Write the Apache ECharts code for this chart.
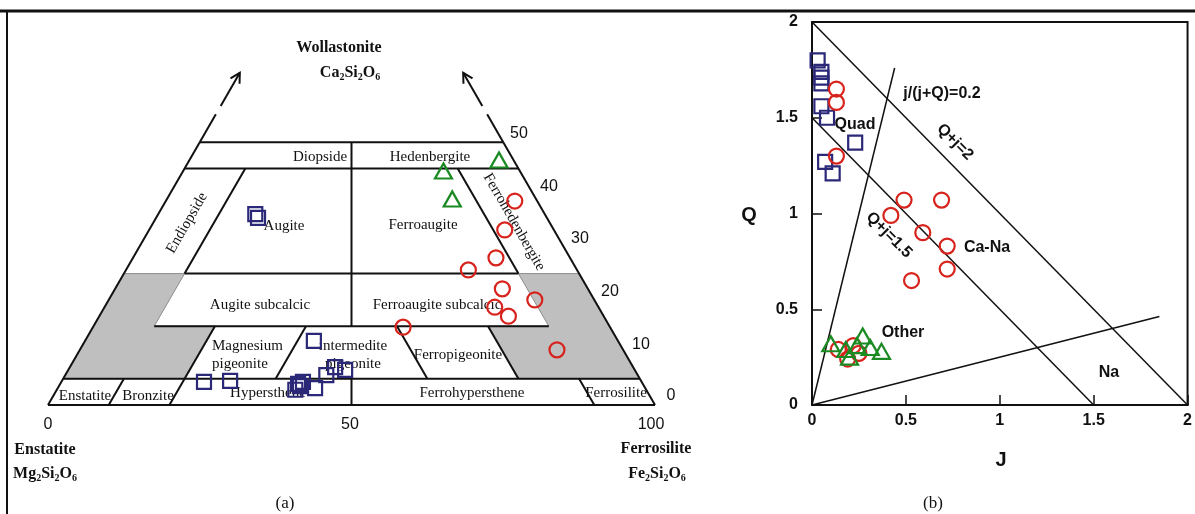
<!DOCTYPE html>
<html>
<head>
<meta charset="utf-8">
<script src="https://cdn.jsdelivr.net/npm/echarts@6/dist/echarts.min.js"></script>
<style>
html, body { margin: 0; background: #fff; }
#chart { width: 1195px; height: 514px; }
</style>
</head>
<body>
<div id="chart"></div>
<script>
// (a) pyroxene quadrilateral, compositions (mol% Wo, Fs; En = 100 - Wo - Fs)
const squareWo = [36.3, 35.6, 4.4, 4.6, 12.2, 2.9, 3.6, 4.4, 4.0, 3.2, 5.7, 7.2, 6.7]
const squareFs = [16.0, 16.8, 23.5, 27.7, 37.7, 39.3, 39.7, 39.8, 39.2, 42.4, 43.0, 43.7, 45.6]
const circleWo = [38.8, 33.3, 28.0, 25.7, 22.1, 20.0, 18.6, 16.9, 14.8, 10.5]
const circleFs = [57.5, 58.6, 59.8, 56.4, 63.8, 70.2, 64.3, 67.4, 51.1, 78.6]
const triangleWo = [46.6, 44.5, 39.2]
const triangleFs = [51.0, 42.9, 47.0]

// (b) Q-J diagram
const squareJ = [0.03, 0.05, 0.05, 0.05, 0.05, 0.08, 0.23, 0.07, 0.11]
const squareQ = [1.80, 1.74, 1.71, 1.68, 1.56, 1.50, 1.37, 1.27, 1.21]
const circleJ = [0.13, 0.13, 0.13, 0.49, 0.42, 0.69, 0.59, 0.72, 0.72, 0.53, 0.14, 0.22, 0.25, 0.19]
const circleQ = [1.65, 1.58, 1.30, 1.07, 0.99, 1.07, 0.90, 0.83, 0.71, 0.65, 0.29, 0.31, 0.27, 0.24]
const triangleJ = [0.10, 0.27, 0.24, 0.31, 0.37, 0.20, 0.18]
const triangleQ = [0.32, 0.36, 0.31, 0.30, 0.28, 0.25, 0.29]

const SQ = '#2b2878'
const RED = '#d8231d'
const GREEN = '#1b8a22'
const INK = '#111'
const SERIF = 'Liberation Serif'
const SANS = 'Liberation Sans'

// ternary -> cartesian (x: 0..100, equilateral)
const S3 = Math.sqrt(3) / 2
function tern (wo, fs) { return [fs + wo / 2, wo * S3] }
function byEn (wo, en) { return tern(wo, 100 - wo - en) }
function mid (wo) { return tern(wo, 50 - wo / 2) }

const fieldLines = [
    [tern(0, 0), byEn(0, 0)],
    [tern(0, 0), tern(50, 0)],
    [byEn(0, 0), byEn(50, 0)],
    [tern(50, 0), byEn(50, 0)],
    [tern(45, 0), byEn(45, 0)],
    [tern(25, 10), byEn(25, 10)],
    [tern(15, 10), byEn(15, 10)],
    [tern(5, 0), byEn(5, 0)],
    [tern(45, 10), tern(25, 10)],
    [byEn(45, 10), byEn(25, 10)],
    [mid(50), mid(15)],
    [mid(5), mid(0)],
    [tern(15, 35), tern(5, 35)],
    [byEn(15, 35), byEn(5, 35)],
    [tern(15, 20), tern(5, 20)],
    [byEn(15, 20), byEn(5, 20)],
    [tern(5, 10), tern(0, 10)],
    [tern(5, 20), tern(0, 20)],
    [byEn(5, 10), byEn(0, 10)]
]
const grayFields = [
    [tern(25, 0), tern(25, 10), tern(15, 10), tern(15, 20), tern(5, 20), tern(5, 0)],
    [byEn(25, 0), byEn(25, 10), byEn(15, 10), byEn(15, 20), byEn(5, 20), byEn(5, 0)]
]

function arrowHead (tip, dir) {
    const L = 1.8, a = 0.5
    const arm = s => {
        const c = Math.cos(s * a), n = Math.sin(s * a)
        return [tip[0] - L * (dir[0] * c - dir[1] * n), tip[1] - L * (dir[0] * n + dir[1] * c)]
    }
    return [arm(1), tip, arm(-1)]
}
const arrowLines = [
    [tern(50, 0), tern(55.3, 0)], [tern(56.9, 0), tern(63.2, 0)],
    arrowHead(tern(63.2, 0), [0.5, S3]),
    [byEn(50, 0), byEn(55.3, 0)], [byEn(56.9, 0), byEn(63.2, 0)],
    arrowHead(byEn(63.2, 0), [-0.5, S3])
]

const qjLines = [
    [[0, 2], [2, 0]],
    [[0, 1.5], [1.5, 0]],
    [[0, 0], [0.44, 1.76]],
    [[0, 0], [1.85, 0.4625]]
]

function hollow (color) {
    return { color: 'rgba(0,0,0,0)', borderColor: color, borderWidth: 2.2, opacity: 1 }
}

function txt (x, y, text, o = {}) {
    return {
        type: 'text', x, y, rotation: o.rot || 0, silent: true,
        style: {
            text,
            fill: INK,
            fontFamily: o.family || SERIF,
            fontSize: o.size || 15,
            fontWeight: o.bold ? 'bold' : 'normal',
            align: o.align || 'center',
            verticalAlign: 'middle',
            rich: o.rich
        }
    }
}
// formula with subscripts
function formula (x, y, text) {
    const base = { fontFamily: SERIF, fontSize: 16, fontWeight: 'bold', lineHeight: 18, verticalAlign: 'middle' }
    return txt(x, y, text, {
        bold: true, size: 16,
        rich: {
            m: base,
            s: { fontFamily: SERIF, fontSize: 10, fontWeight: 'bold', lineHeight: 10, verticalAlign: 'bottom' }
        }
    })
}

const labels = [
    txt(320, 157, 'Diopside'),
    txt(430, 157, 'Hedenbergite'),
    txt(187, 223, 'Endiopside', { rot: Math.PI / 3 }),
    txt(284, 226, 'Augite'),
    txt(423, 225, 'Ferroaugite'),
    txt(514, 222, 'Ferrohedenbergite', { rot: -Math.PI / 3 }),
    txt(260, 305, 'Augite subcalcic'),
    txt(437, 305, 'Ferroaugite subcalcic'),
    txt(212, 346, 'Magnesium', { align: 'left' }),
    txt(212, 364, 'pigeonite', { align: 'left' }),
    txt(353, 346, 'intermedite'),
    txt(353, 364, 'pigeonite'),
    txt(458, 355, 'Ferropigeonite'),
    txt(85, 396, 'Enstatite'),
    txt(148, 396, 'Bronzite'),
    txt(268, 393, 'Hypersthene'),
    txt(472, 393, 'Ferrohypersthene'),
    txt(616, 393, 'Ferrosilite'),

    txt(519, 134, '50', { family: SANS, size: 16 }),
    txt(549, 187, '40', { family: SANS, size: 16 }),
    txt(580, 239, '30', { family: SANS, size: 16 }),
    txt(610, 292, '20', { family: SANS, size: 16 }),
    txt(641, 345, '10', { family: SANS, size: 16 }),
    txt(671, 396, '0', { family: SANS, size: 16 }),
    txt(48, 425, '0', { family: SANS, size: 16 }),
    txt(350, 425, '50', { family: SANS, size: 16 }),
    txt(651, 425, '100', { family: SANS, size: 16 }),

    txt(339, 48, 'Wollastonite', { bold: true, size: 16 }),
    formula(350, 73, '{m|Ca}{s|2}{m|Si}{s|2}{m|O}{s|6}'),
    txt(45, 450, 'Enstatite', { bold: true, size: 16 }),
    formula(45, 474, '{m|Mg}{s|2}{m|Si}{s|2}{m|O}{s|6}'),
    txt(656, 449, 'Ferrosilite', { bold: true, size: 16 }),
    formula(657, 474, '{m|Fe}{s|2}{m|Si}{s|2}{m|O}{s|6}'),
    txt(285, 504, '(a)', { size: 17 }),
    txt(933, 504, '(b)', { size: 17 }),

    txt(942, 94, 'j/(j+Q)=0.2', { family: SANS, bold: true, size: 16 }),
    txt(955, 142, 'Q+j=2', { family: SANS, bold: true, size: 16, rot: -Math.PI / 4 }),
    txt(889, 235, 'Q+j=1.5', { family: SANS, bold: true, size: 16, rot: -Math.PI / 4 }),
    txt(855, 125, 'Quad', { family: SANS, bold: true, size: 16 }),
    txt(987, 248, 'Ca-Na', { family: SANS, bold: true, size: 16 }),
    txt(903, 333, 'Other', { family: SANS, bold: true, size: 16 }),
    txt(1109, 373, 'Na', { family: SANS, bold: true, size: 16 }),
    txt(749, 215, 'Q', { family: SANS, bold: true, size: 20 }),
    txt(1001, 460, 'J', { family: SANS, bold: true, size: 20 }),

    { type: 'line', silent: true, shape: { x1: 0, y1: 11, x2: 1195, y2: 11 }, style: { stroke: INK, lineWidth: 3 } },
    { type: 'line', silent: true, shape: { x1: 7, y1: 11, x2: 7, y2: 514 }, style: { stroke: INK, lineWidth: 2 } }
]

const qjLabel = { fontFamily: SANS, fontSize: 16, fontWeight: 'bold', color: INK }

const ec = echarts.init(document.getElementById('chart'))
ec.setOption({
    animation: false,
    backgroundColor: '#fff',
    grid: [
        { left: 48, top: 40.8, width: 607, height: 364.2 },
        { left: 812, top: 22, width: 376, height: 383, show: true, borderColor: INK, borderWidth: 2 }
    ],
    xAxis: [
        { gridIndex: 0, type: 'value', min: 0, max: 100, show: false },
        {
            gridIndex: 1, type: 'value', min: 0, max: 2, interval: 0.5,
            axisLine: { lineStyle: { color: INK, width: 2 } },
            axisTick: { inside: true, length: 10, lineStyle: { color: INK, width: 1.5 } },
            axisLabel: Object.assign({ margin: 8, formatter: v => String(v) }, qjLabel),
            splitLine: { show: false }
        }
    ],
    yAxis: [
        { gridIndex: 0, type: 'value', min: 0, max: 60, show: false },
        {
            gridIndex: 1, type: 'value', min: 0, max: 2, interval: 0.5,
            axisLine: { lineStyle: { color: INK, width: 2 } },
            axisTick: { inside: true, length: 10, lineStyle: { color: INK, width: 1.5 } },
            axisLabel: Object.assign({ margin: 14, formatter: v => String(v) }, qjLabel),
            splitLine: { show: false }
        }
    ],
    graphic: { elements: labels },
    series: [
        {
            type: 'custom', xAxisIndex: 0, yAxisIndex: 0, z: 1, silent: true,
            data: grayFields.map((p, i) => [i, 0]),
            renderItem: (params, api) => ({
                type: 'polygon',
                shape: { points: grayFields[params.dataIndex].map(p => api.coord(p)) },
                style: { fill: '#bfbfbf', stroke: '#8c8c8c', lineWidth: 1 }
            })
        },
        {
            type: 'lines', coordinateSystem: 'cartesian2d', xAxisIndex: 0, yAxisIndex: 0,
            polyline: true, silent: true, z: 2,
            lineStyle: { color: INK, width: 2, opacity: 1 },
            data: fieldLines.concat(arrowLines).map(c => ({ coords: c }))
        },
        {
            type: 'lines', coordinateSystem: 'cartesian2d', xAxisIndex: 1, yAxisIndex: 1,
            polyline: true, silent: true, z: 2,
            lineStyle: { color: INK, width: 1.5, opacity: 1 },
            data: qjLines.map(c => ({ coords: c }))
        },
        {
            type: 'scatter', xAxisIndex: 0, yAxisIndex: 0, z: 3, symbol: 'rect', symbolSize: 14,
            itemStyle: hollow(SQ), data: squareWo.map((w, i) => tern(w, squareFs[i]))
        },
        {
            type: 'scatter', xAxisIndex: 0, yAxisIndex: 0, z: 3, symbol: 'circle', symbolSize: 15,
            itemStyle: hollow(RED), data: circleWo.map((w, i) => tern(w, circleFs[i]))
        },
        {
            type: 'scatter', xAxisIndex: 0, yAxisIndex: 0, z: 3, symbol: 'triangle', symbolSize: [17, 15],
            itemStyle: hollow(GREEN), data: triangleWo.map((w, i) => tern(w, triangleFs[i]))
        },
        {
            type: 'scatter', xAxisIndex: 1, yAxisIndex: 1, z: 3, symbol: 'rect', symbolSize: 14,
            itemStyle: hollow(SQ), data: squareJ.map((j, i) => [j, squareQ[i]])
        },
        {
            type: 'scatter', xAxisIndex: 1, yAxisIndex: 1, z: 3, symbol: 'circle', symbolSize: 15,
            itemStyle: hollow(RED), data: circleJ.map((j, i) => [j, circleQ[i]])
        },
        {
            type: 'scatter', xAxisIndex: 1, yAxisIndex: 1, z: 3, symbol: 'triangle', symbolSize: [17, 15],
            itemStyle: hollow(GREEN), data: triangleJ.map((j, i) => [j, triangleQ[i]])
        }
    ]
})
</script>
</body>
</html>
